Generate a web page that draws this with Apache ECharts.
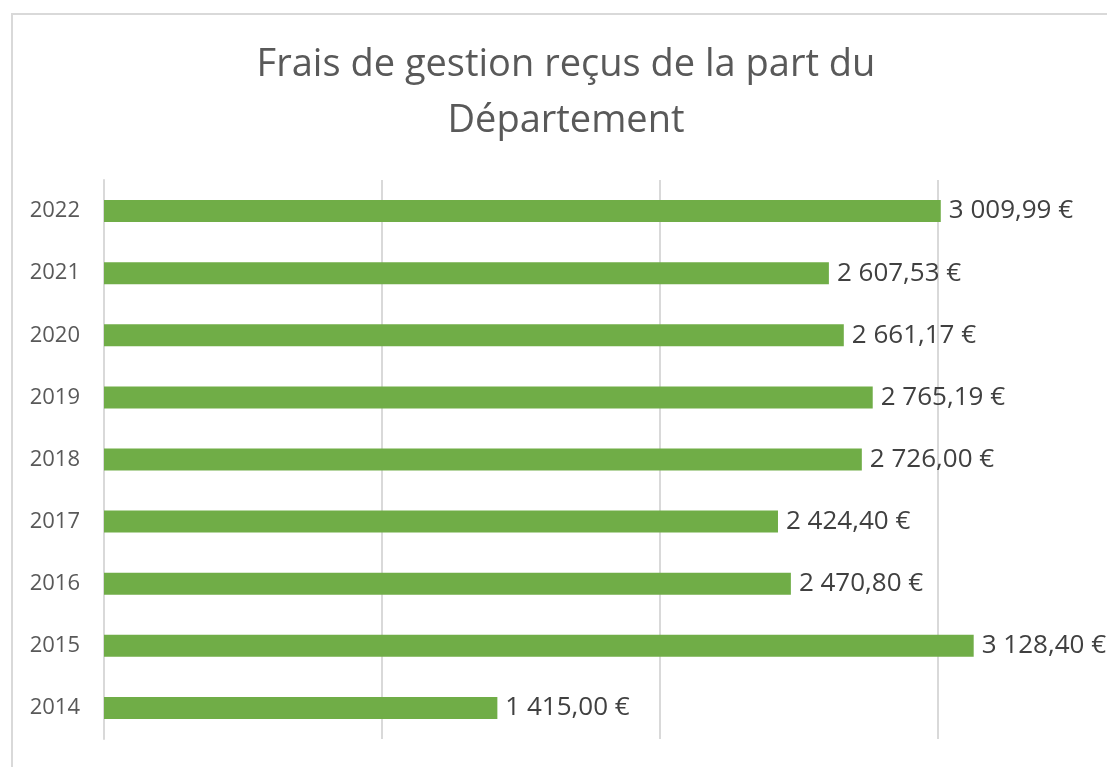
<!DOCTYPE html>
<html>
<head>
<meta charset="utf-8">
<script src="https://cdn.jsdelivr.net/npm/echarts@6/dist/echarts.min.js"></script>
<style>
  html, body { margin: 0; padding: 0; background: #fff; overflow: hidden; width: 1107px; height: 767px; }
  /* chart is wider than the window: the original picture is cropped on the right */
  #chart { width: 1216px; height: 767px; }
</style>
</head>
<body>
<div id="chart"></div>
<script>
// Data (bottom to top)
const years = ['2014', '2015', '2016', '2017', '2018', '2019', '2020', '2021', '2022'];
const fees = [1415.00, 3128.40, 2470.80, 2424.40, 2726.00, 2765.19, 2661.17, 2607.53, 3009.99];
const titleText = 'Frais de gestion reçus de la part du\nDépartement';

// 1234.5 -> "1 234,50 €"
const formatEuro = function (v) {
    let parts = v.toFixed(2).split('.');
    let intPart = parts[0].replace(/\B(?=(\d{3})+(?!\d))/g, ' ');
    return intPart + ',' + parts[1] + ' €';
};

const chart = echarts.init(document.getElementById('chart'));

chart.setOption({
    animation: false,
    textStyle: {
        fontFamily: '"Open Sans", sans-serif'
    },

    // Title
    title: {
        text: titleText,
        left: 561,
        top: 32,
        textAlign: 'center',
        textStyle: {
            fontSize: 38,
            fontWeight: 'normal',
            color: '#595959',
            lineHeight: 56,
            fontFamily: '"Open Sans", sans-serif'
        }
    },

    // Chart frame (cropped on right and bottom)
    graphic: [{
        type: 'rect',
        shape: { x: 12, y: 14, width: 1400, height: 900 },
        style: { fill: 'none', stroke: '#d9d9d9', lineWidth: 2 },
        silent: true
    }],

    grid: {
        left: 104,
        right: 0,
        top: 180,
        bottom: 28
    },

    xAxis: {
        type: 'value',
        min: 0,
        max: 4000,
        interval: 1000,
        axisLabel: { show: false },
        axisTick: { show: false },
        axisLine: { show: false },
        splitLine: {
            show: true,
            lineStyle: { color: '#d9d9d9', width: 2 }
        }
    },

    yAxis: {
        type: 'category',
        data: years,
        axisTick: { show: false },
        axisLine: {
            show: true,
            lineStyle: { color: '#d9d9d9', width: 2 }
        },
        axisLabel: {
            margin: 24,
            fontSize: 22,
            color: '#595959'
        }
    },

    series: [{
        type: 'bar',
        data: fees,
        barWidth: 22,
        itemStyle: { color: '#70ad47' },
        label: {
            show: true,
            position: 'right',
            distance: 8,
            fontSize: 26,
            color: '#404040',
            formatter: function (p) { return formatEuro(p.value); }
        }
    }]
});
</script>
</body>
</html>
